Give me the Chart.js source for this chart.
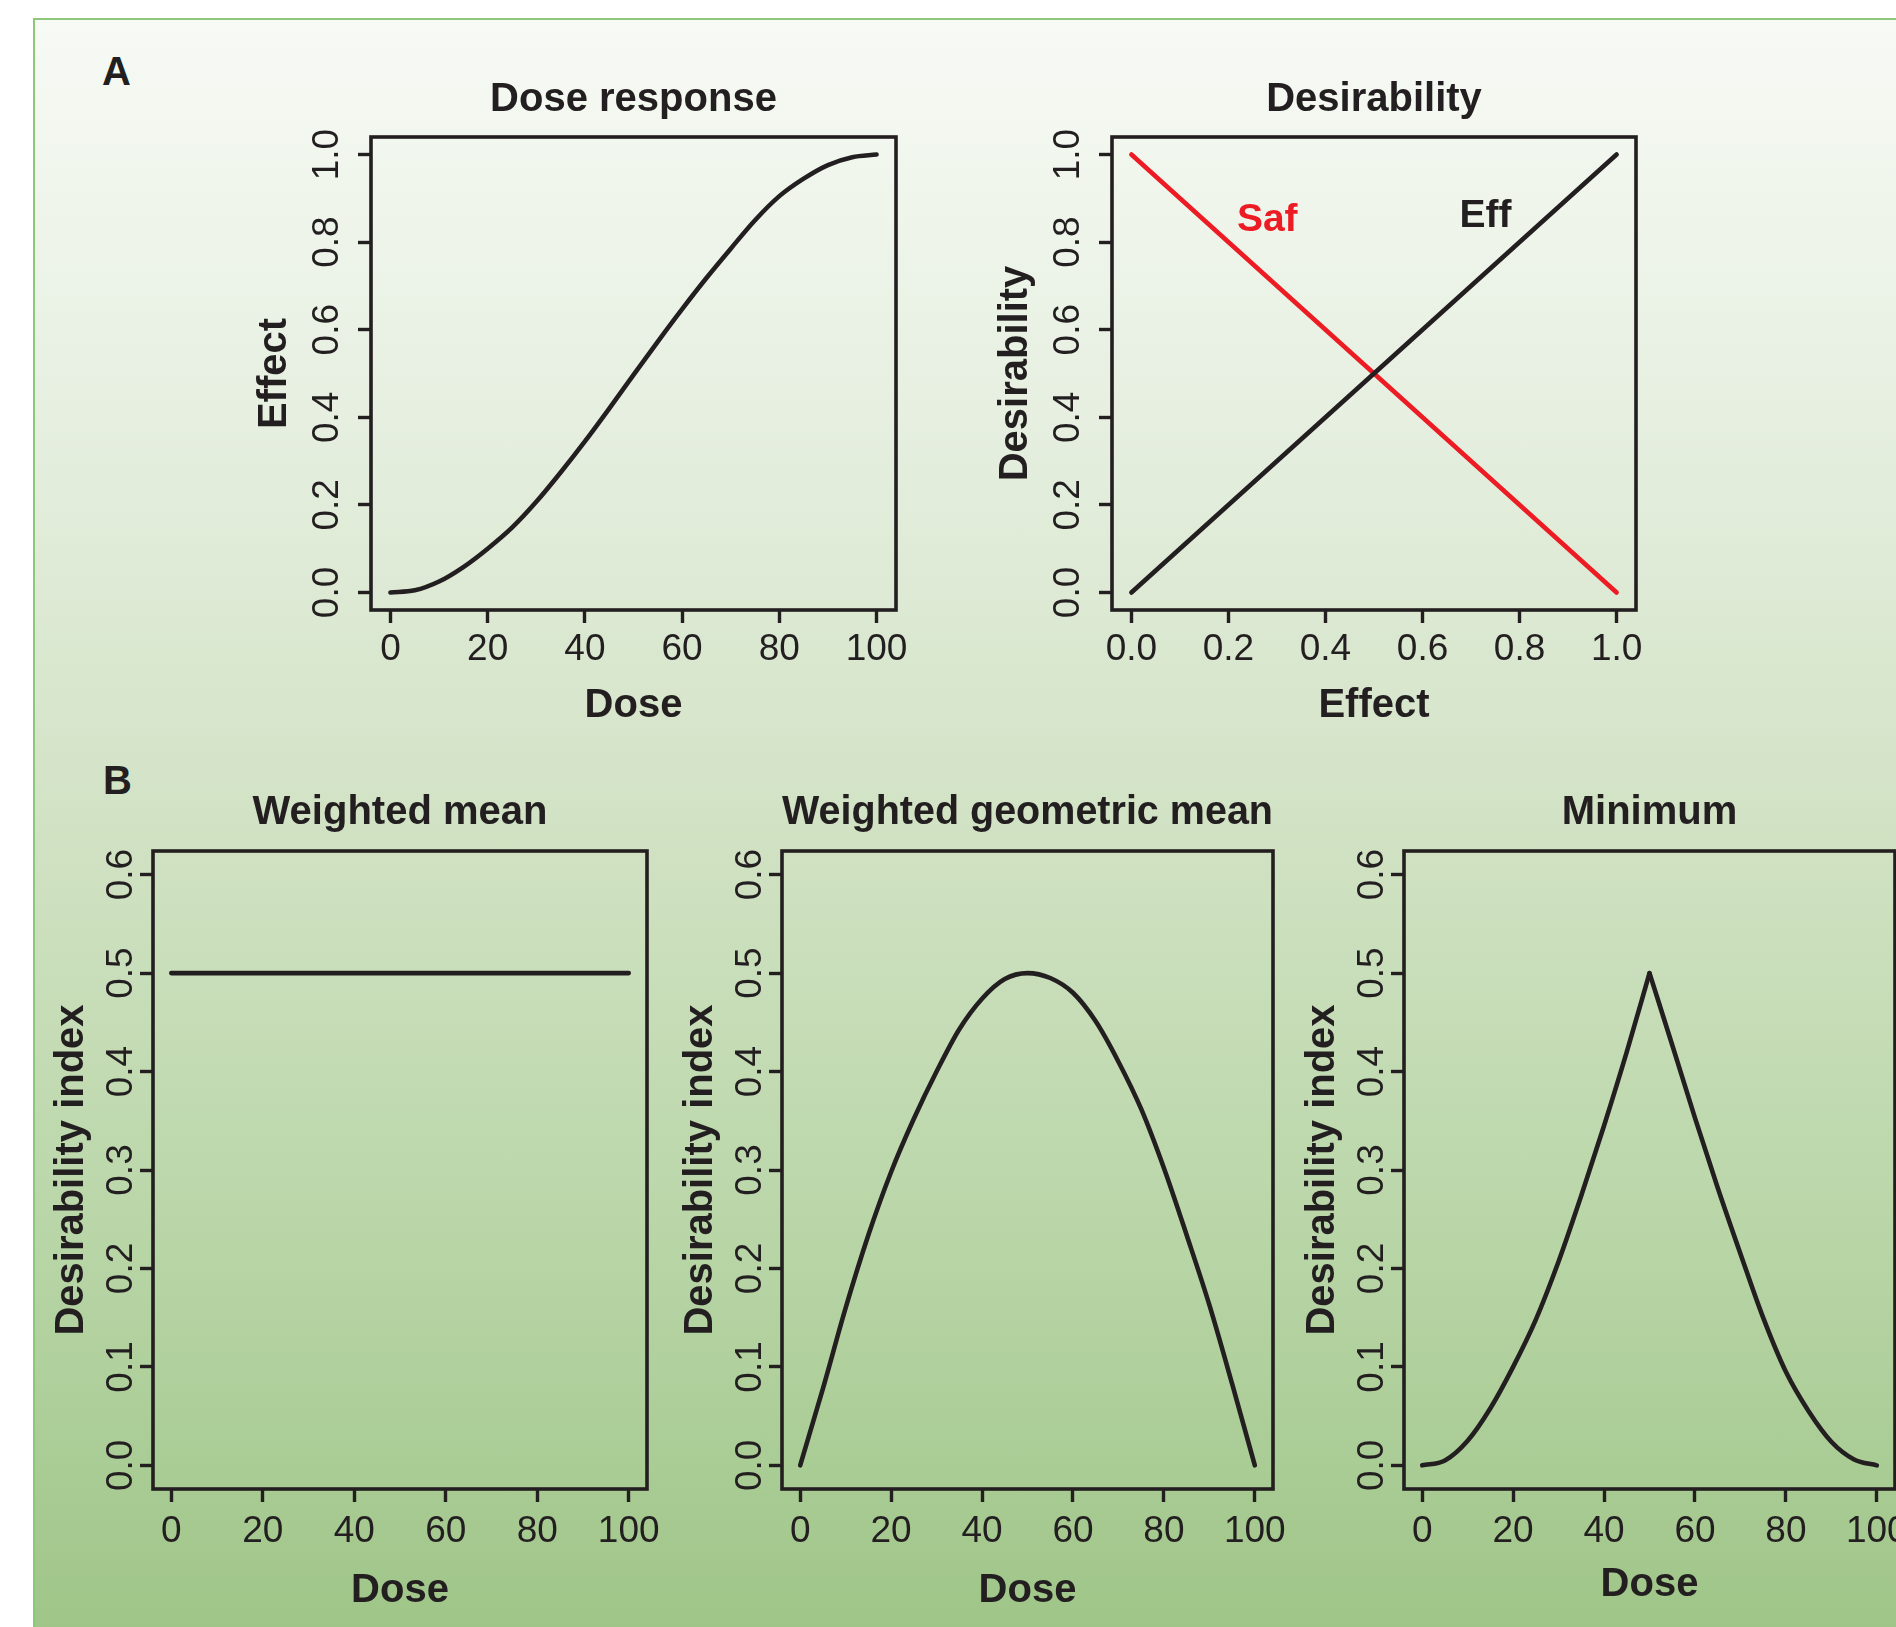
<!DOCTYPE html>
<html>
<head>
<meta charset="utf-8">
<script src="https://cdn.jsdelivr.net/npm/chart.js@4.4.1/dist/chart.umd.min.js"></script>
<style>
  html, body { margin: 0; padding: 0; width: 1896px; height: 1627px; overflow: hidden; background: #ffffff; }
  body { position: relative; font-family: "Liberation Sans", Arial, Helvetica, sans-serif; }
  #frame { position: absolute; left: 33px; top: 18px; width: 1900px; height: 1700px;
    border-left: 2px solid #8dc77b; border-top: 2px solid #8dc77b;
    background: linear-gradient(to bottom, #f7faf5 0px, #e6efe0 400px, #d3e3c6 780px, #bbd7aa 1180px, #9fc588 1610px); }
  .panel { position: absolute; font-weight: bold; font-size: 40px; line-height: 40px; color: #231f20; }
  canvas { position: absolute; }
</style>
</head>
<body>
<div id="frame"></div>
<div class="panel" style="left:102px; top:51px;">A</div>
<div class="panel" style="left:103px; top:760px;">B</div>
<canvas id="c1"></canvas>
<canvas id="c2"></canvas>
<canvas id="c3"></canvas>
<canvas id="c4"></canvas>
<canvas id="c5"></canvas>
<script>
// ---------- data ----------
const doses = [0, 5, 10, 15, 20, 25, 30, 35, 40, 45, 50, 55, 60, 65, 70, 75, 80, 85, 90, 95, 100];
const doseResponse = [0, 0.005, 0.025, 0.058, 0.100, 0.148, 0.207, 0.274, 0.345, 0.420, 0.497, 0.573, 0.647, 0.718, 0.785, 0.850, 0.905, 0.945, 0.976, 0.994, 1.0];
const effectGrid = [0, 1];
const effDesirability = [0, 1];
const safDesirability = [1, 0];
const weightedMean = [0.5, 0.5, 0.5, 0.5, 0.5, 0.5, 0.5, 0.5, 0.5, 0.5, 0.5, 0.5, 0.5, 0.5, 0.5, 0.5, 0.5, 0.5, 0.5, 0.5, 0.5];
const weightedGeoMean = [0, 0.078, 0.160, 0.234, 0.298, 0.352, 0.400, 0.443, 0.474, 0.494, 0.500, 0.495, 0.480, 0.451, 0.410, 0.362, 0.302, 0.234, 0.163, 0.083, 0];
const minimumIndex = [0, 0.005, 0.025, 0.058, 0.100, 0.148, 0.207, 0.274, 0.345, 0.420, 0.500, 0.427, 0.353, 0.282, 0.215, 0.150, 0.095, 0.055, 0.024, 0.006, 0];
const doseTicks = [0, 20, 40, 60, 80, 100];
const unitTicks = [0, 0.2, 0.4, 0.6, 0.8, 1.0];
const indexTicks = [0, 0.1, 0.2, 0.3, 0.4, 0.5, 0.6];
const curveLabelText = ['Saf', 'Eff'];
const curveLabelX = [0.28, 0.73];
const curveLabelY = [0.85, 0.86];

// ---------- style ----------
const INK = '#231f20';
const RED = '#ed1c24';
const FONT = '"Liberation Sans", Arial, Helvetica, sans-serif';
Chart.defaults.font.family = FONT;
Chart.defaults.color = INK;

const framePlugin = {
  id: 'frameBox',
  afterDatasetsDraw(chart) {
    const { ctx, chartArea: a } = chart;
    ctx.save();
    ctx.lineWidth = 3.6;
    ctx.strokeStyle = INK;
    ctx.strokeRect(a.left, a.top, a.right - a.left, a.bottom - a.top);
    ctx.restore();
  }
};
const curveLabelPlugin = {
  id: 'curveLabels',
  afterDatasetsDraw(chart, args, opts) {
    if (!opts || !opts.items) return;
    const { ctx, scales } = chart;
    ctx.save();
    ctx.font = 'bold 39px ' + FONT;
    ctx.textAlign = 'center';
    ctx.textBaseline = 'middle';
    opts.items.forEach(it => {
      ctx.fillStyle = it.color;
      ctx.fillText(it.text, scales.x.getPixelForValue(it.x), scales.y.getPixelForValue(it.y));
    });
    ctx.restore();
  }
};
Chart.register(framePlugin, curveLabelPlugin);

function pts(xs, ys) { return xs.map((x, i) => ({ x: x, y: ys[i] })); }

function lineDs(data, color, monotone) {
  return {
    data: data, borderColor: color, borderWidth: 4.6, pointRadius: 0,
    borderCapStyle: 'round', borderJoinStyle: 'round',
    cubicInterpolationMode: monotone ? 'monotone' : 'default', tension: 0, fill: false
  };
}

function axisX(min, max, ticks, dec, title, pad, h) {
  return {
    type: 'linear', position: 'bottom', min: min, max: max,
    afterBuildTicks: s => { s.ticks = ticks.map(v => ({ value: v })); },
    afterFit: s => { s.height = h; },
    grid: { display: true, drawOnChartArea: false, drawTicks: true, tickLength: 13, tickWidth: 3.4, tickColor: INK },
    border: { display: false },
    ticks: { autoSkip: false, minRotation: 0, maxRotation: 0, padding: pad, color: INK, font: { size: 37 },
      callback: v => dec ? Number(v).toFixed(dec) : String(v) },
    title: { display: true, text: title, color: INK, font: { size: 40, weight: 'bold' }, padding: { top: 0, bottom: 0 } }
  };
}
function axisY(min, max, ticks, title, pad, w) {
  return {
    type: 'linear', position: 'left', min: min, max: max,
    afterBuildTicks: s => { s.ticks = ticks.map(v => ({ value: v })); },
    afterFit: s => { s.width = w; },
    grid: { display: true, drawOnChartArea: false, drawTicks: true, tickLength: 13, tickWidth: 3.4, tickColor: INK },
    border: { display: false },
    ticks: { autoSkip: false, minRotation: 90, maxRotation: 90, crossAlign: 'center', padding: pad, color: INK, font: { size: 37 },
      callback: v => Number(v).toFixed(1) },
    title: { display: true, text: title, color: INK, font: { size: 40, weight: 'bold' }, padding: { top: 0, bottom: 0 } }
  };
}

function makeChart(id, g, datasets, titleText, xs, ys, labels) {
  const cv = document.getElementById(id);
  cv.style.left = g.left + 'px';
  cv.style.top = g.top + 'px';
  cv.width = g.w; cv.height = g.h;
  cv.style.width = g.w + 'px'; cv.style.height = g.h + 'px';
  return new Chart(cv, {
    type: 'line',
    data: { datasets: datasets },
    options: {
      responsive: false, animation: false, devicePixelRatio: 1,
      layout: { padding: { left: 0, top: 0, right: 40, bottom: 0 } },
      plugins: {
        legend: { display: false }, tooltip: { enabled: false },
        title: { display: true, text: titleText, fullSize: false, color: INK,
          font: { size: 40, weight: 'bold' }, padding: { top: 0, bottom: g.titlePad } },
        curveLabels: labels ? { items: labels } : {}
      },
      scales: { x: xs, y: ys }
    }
  });
}

// ---------- top row ----------
const topG = { top: 76, h: 654, titlePad: 13 };
makeChart('c1', Object.assign({ left: 251, w: 685 }, topG),
  [lineDs(pts(doses, doseResponse), INK, true)],
  'Dose response',
  axisX(-4, 104, doseTicks, 0, 'Dose', 5, 120),
  axisY(-0.04, 1.04, unitTicks, 'Effect', 4, 120));

makeChart('c2', Object.assign({ left: 992, w: 684 }, topG),
  [lineDs(pts(effectGrid, effDesirability), INK, false), lineDs(pts(effectGrid, safDesirability), RED, false)],
  'Desirability',
  axisX(-0.04, 1.04, unitTicks, 1, 'Effect', 5, 120),
  axisY(-0.04, 1.04, unitTicks, 'Desirability', 4, 120),
  curveLabelText.map((t, i) => ({ text: t, x: curveLabelX[i], y: curveLabelY[i], color: i === 0 ? RED : INK })));

// ---------- bottom row ----------
const botG = { top: 789, titlePad: 14 };
makeChart('c3', Object.assign({ left: 48, w: 639, h: 826 }, botG),
  [lineDs(pts(doses, weightedMean), INK, false)],
  'Weighted mean',
  axisX(-4, 104, doseTicks, 0, 'Dose', 8, 126),
  axisY(-0.024, 0.624, indexTicks, 'Desirability index', -8, 105));

makeChart('c4', Object.assign({ left: 677, w: 636, h: 826 }, botG),
  [lineDs(pts(doses, weightedGeoMean), INK, true)],
  'Weighted geometric mean',
  axisX(-4, 104, doseTicks, 0, 'Dose', 8, 126),
  axisY(-0.024, 0.624, indexTicks, 'Desirability index', -8, 105));

const half = doses.indexOf(50);
makeChart('c5', Object.assign({ left: 1299, w: 636, h: 820 }, botG),
  [lineDs(pts(doses.slice(0, half + 1), minimumIndex.slice(0, half + 1)), INK, true),
   lineDs(pts(doses.slice(half), minimumIndex.slice(half)), INK, true)],
  'Minimum',
  axisX(-4, 104, doseTicks, 0, 'Dose', 8, 120),
  axisY(-0.024, 0.624, indexTicks, 'Desirability index', -8, 105));
</script>
</body>
</html>
